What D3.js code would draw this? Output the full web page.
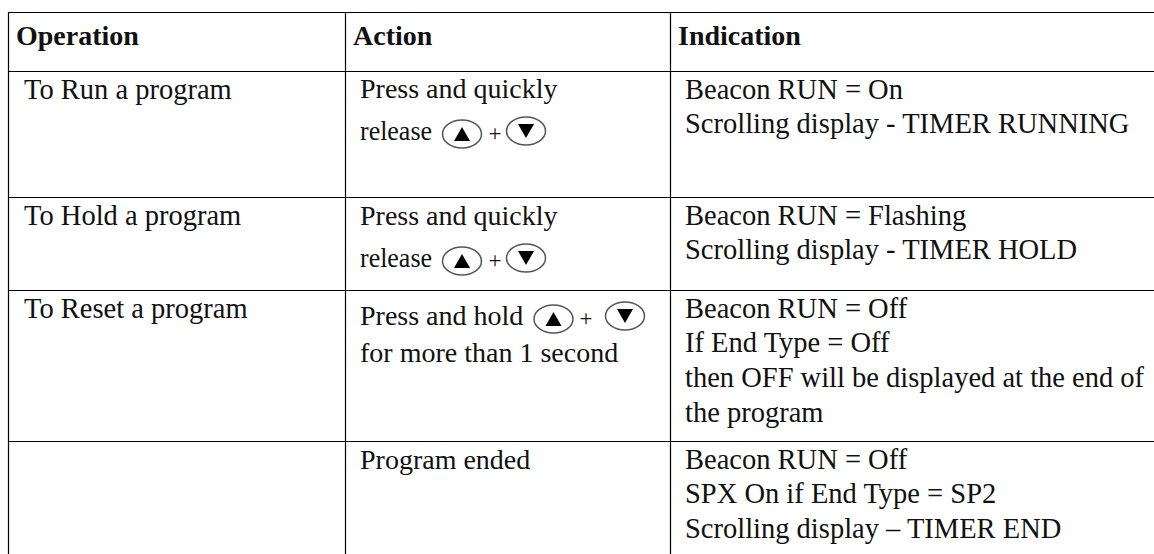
<!DOCTYPE html>
<html>
<head>
<meta charset="utf-8">
<script src="https://cdn.jsdelivr.net/npm/d3@7"></script>
<style>
  html, body { margin: 0; background: #fff; }
  text { font-family: "Liberation Serif", serif; fill: #111; }
</style>
</head>
<body>
<div id="chart"></div>
<script>
const columns = ["Operation", "Action", "Indication"];
const rows = ["header", "run", "hold", "reset", "ended"];

const operations = ["To Run a program", "To Hold a program", "To Reset a program", ""];
const actions = [
  ["Press and quickly", "release {keys}"],
  ["Press and quickly", "release {keys}"],
  ["Press and hold {keys}", "for more than 1 second"],
  ["Program ended"]
];
const indications = [
  ["Beacon RUN = On", "Scrolling display - TIMER RUNNING"],
  ["Beacon RUN = Flashing", "Scrolling display - TIMER HOLD"],
  ["Beacon RUN = Off", "If End Type = Off", "then OFF will be displayed at the end of", "the program"],
  ["Beacon RUN = Off", "SPX On if End Type = SP2", "Scrolling display \u2013 TIMER END"]
];

const width = 1154, height = 554;

// column and row edges
const x = d3.scaleOrdinal().domain(columns).range([8, 345, 670]);
const y = d3.scaleOrdinal().domain(rows).range([12, 71, 197, 290, 441]);
const tableRight = 1154, tableBottom = 554;

// layout of the action column: baselines from row top, key glyph centres per row
const actionBaselines = [[27, 69], [28, 70], [35, 72], [28]];
const keyX = [
  { up: 462, plus: 495, down: 526 },
  { up: 462, plus: 495, down: 526 },
  { up: 553.5, plus: 586, down: 625 },
  null
];

const svg = d3.select("#chart").append("svg")
  .attr("width", width)
  .attr("height", height)
  .style("display", "block");

const grid = svg.append("g").attr("stroke", "#000").attr("stroke-width", 1.2);

grid.selectAll("line.h")
  .data(rows)
  .enter().append("line")
  .attr("class", "h")
  .attr("x1", x("Operation"))
  .attr("x2", tableRight)
  .attr("y1", d => y(d) + 0.5)
  .attr("y2", d => y(d) + 0.5);

grid.selectAll("line.v")
  .data(columns)
  .enter().append("line")
  .attr("class", "v")
  .attr("x1", d => x(d) + 0.5)
  .attr("x2", d => x(d) + 0.5)
  .attr("y1", y("header"))
  .attr("y2", tableBottom);

const fontSize = 28.5;
const bodyRows = rows.slice(1);

// header row
svg.append("g").selectAll("text")
  .data(columns)
  .enter().append("text")
  .attr("x", d => x(d) + 8)
  .attr("y", 45)
  .attr("font-size", 28)
  .attr("font-weight", "bold")
  .text(d => d);

// operation column
svg.append("g").selectAll("text")
  .data(operations)
  .enter().append("text")
  .attr("x", x("Operation") + 16)
  .attr("y", (d, i) => y(bodyRows[i]) + 27.5)
  .attr("font-size", fontSize)
  .text(d => d);

// up / down key glyph
function keyIcon(g, cx, cy, dir) {
  const key = g.append("g").attr("transform", `translate(${cx},${cy})`);
  key.append("ellipse")
    .attr("rx", 19.5).attr("ry", 14)
    .attr("fill", "#fff")
    .attr("stroke", "#555")
    .attr("stroke-width", 1.5);
  const s = dir === "up" ? 1 : -1;
  key.append("path")
    .attr("d", d3.line()([[-8, 7 * s], [8, 7 * s], [0, -7 * s]]) + "Z")
    .attr("fill", "#000");
}

// action column, a line may end in the two key glyphs
const actionG = svg.append("g");
actions.forEach((lines, i) => {
  lines.forEach((line, j) => {
    const ly = y(bodyRows[i]) + actionBaselines[i][j];
    const label = actionG.append("text")
      .attr("x", x("Action") + 15)
      .attr("y", ly)
      .attr("font-size", 28)
      .text(line.replace(" {keys}", ""));
    // "release" runs wide in this font, squeeze it so it clears the key
    if (line.startsWith("release")) {
      label.attr("textLength", 72).attr("lengthAdjust", "spacingAndGlyphs");
    }
    if (line.includes("{keys}")) {
      const k = keyX[i];
      keyIcon(actionG, k.up, ly - 6, "up");
      keyIcon(actionG, k.down, ly - 9, "down");
      actionG.append("text")
        .attr("x", k.plus)
        .attr("y", ly + 1)
        .attr("text-anchor", "middle")
        .attr("font-size", 23)
        .text("+");
    }
  });
});

// indication column
const indG = svg.append("g");
indications.forEach((lines, i) => {
  indG.selectAll(null)
    .data(lines)
    .enter().append("text")
    .attr("x", x("Indication") + 15)
    .attr("y", (d, j) => y(bodyRows[i]) + 27.5 + j * 34.7)
    .attr("font-size", fontSize)
    .text(d => d);
});
</script>
</body>
</html>
